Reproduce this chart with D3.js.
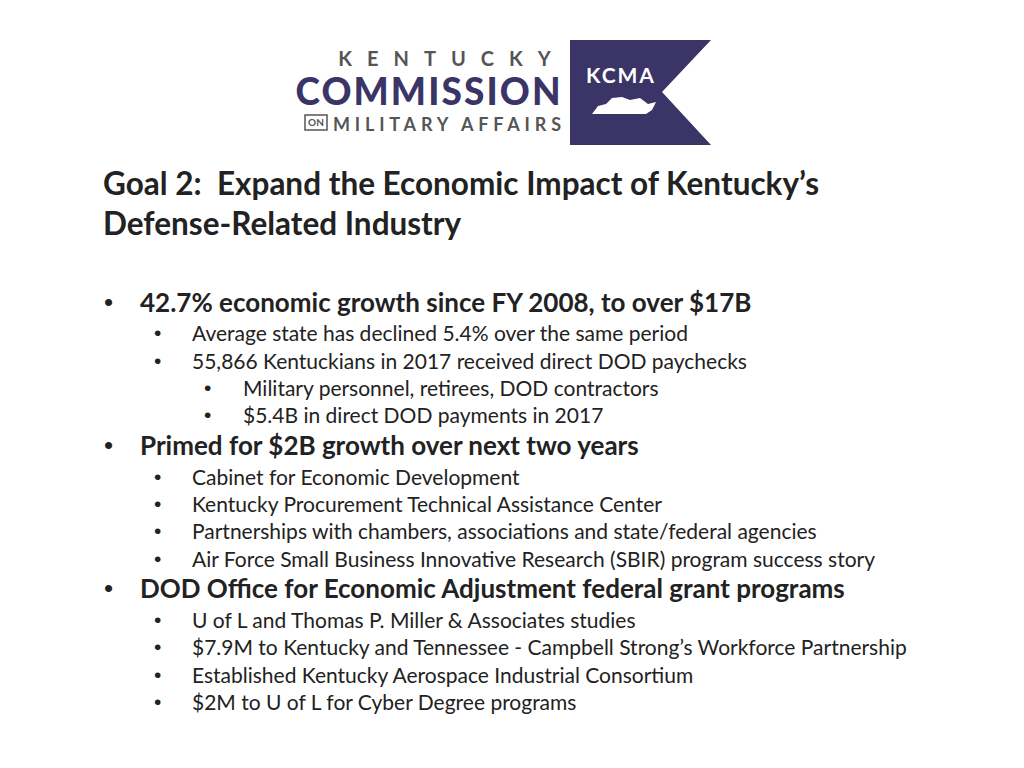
<!DOCTYPE html><html><head><meta charset="utf-8"><script src="https://cdn.jsdelivr.net/npm/d3@7"></script>
<style>body{margin:0;background:#fff} text{white-space:pre}</style></head><body><script>
const titleLines=["Goal 2:  Expand the Economic Impact of Kentucky’s","Defense-Related Industry"];
const bulletTexts=["42.7% economic growth since FY 2008, to over $17B","Average state has declined 5.4% over the same period","55,866 Kentuckians in 2017 received direct DOD paychecks","Military personnel, retirees, DOD contractors","$5.4B in direct DOD payments in 2017","Primed for $2B growth over next two years","Cabinet for Economic Development","Kentucky Procurement Technical Assistance Center","Partnerships with chambers, associations and state/federal agencies","Air Force Small Business Innovative Research (SBIR) program success story","DOD Office for Economic Adjustment federal grant programs","U of L and Thomas P. Miller & Associates studies","$7.9M to Kentucky and Tennessee - Campbell Strong’s Workforce Partnership","Established Kentucky Aerospace Industrial Consortium","$2M to U of L for Cyber Degree programs"];
const bulletLevels=[1,2,2,3,3,1,2,2,2,2,1,2,2,2,2];
const bulletBaselines=[312,341,369,396,423,455,485,512,539,567,598,628,655,683,710];
const svg=d3.select("body").append("svg").attr("width",1024).attr("height",768).style("font-family","Lato, 'Open Sans', sans-serif");
const navy="#3b3467";
// logo
svg.append("text").attr("x",452).attr("y",66).attr("text-anchor","middle").attr("fill","#555").attr("font-size",20).attr("font-weight",700).attr("letter-spacing",15).text("KENTUCKY");
svg.append("text").attr("x",428).attr("y",105).attr("text-anchor","middle").attr("fill",navy).attr("font-size",37).attr("font-weight",900).attr("textLength",265).text("COMMISSION");
svg.append("rect").attr("x",305).attr("y",115).attr("width",22).attr("height",15).attr("fill","none").attr("stroke","#555").attr("stroke-width",1.5);
svg.append("text").attr("x",316).attr("y",126).attr("text-anchor","middle").attr("fill","#555").attr("font-size",10).attr("font-weight",700).text("ON");
svg.append("text").attr("x",333).attr("y",131).attr("fill","#555").attr("font-size",18).attr("font-weight",700).attr("textLength",228).text("MILITARY AFFAIRS");
svg.append("path").attr("d","M570,40H711L662,92L711,145H570Z").attr("fill",navy);
svg.append("text").attr("x",621).attr("y",83).attr("text-anchor","middle").attr("fill","#fff").attr("font-size",21).attr("font-weight",700).attr("letter-spacing",2).text("KCMA");
svg.append("path").attr("d","M592,114L598,106L606,104L612,98L622,97L630,100L640,98L648,104L656,102L652,110L646,114Z").attr("fill","#fff");
// title
svg.selectAll("text.t").data(titleLines).join("text").attr("class","t").attr("x",103).attr("y",(d,i)=>195+i*40).attr("fill","#222").attr("font-size",31.5).attr("font-weight",700).text(d=>d);
const xb={1:104,2:154,3:204},xt={1:140,2:192,3:243},fs={1:26,2:21,3:21};
const g=svg.selectAll("g.b").data(bulletTexts).join("g").attr("class","b");
g.append("text").attr("x",(d,i)=>xb[bulletLevels[i]]).attr("y",(d,i)=>bulletBaselines[i]-1).attr("font-size",(d,i)=>fs[bulletLevels[i]]).attr("font-family","'Liberation Sans'").attr("fill","#222").text("•");
g.append("text").attr("x",(d,i)=>xt[bulletLevels[i]]).attr("y",(d,i)=>bulletBaselines[i]).attr("font-size",(d,i)=>fs[bulletLevels[i]]).attr("font-weight",(d,i)=>bulletLevels[i]==1?700:400).attr("fill","#222").text(d=>d);
</script></body></html>
